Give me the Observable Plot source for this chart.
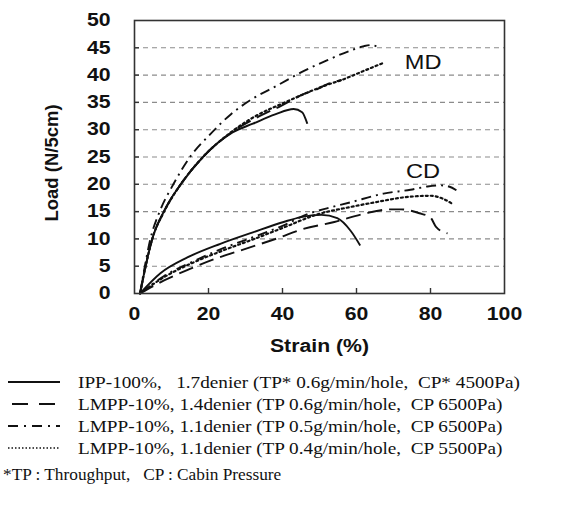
<!DOCTYPE html>
<html>
<head>
<meta charset="utf-8">
<script src="https://cdn.jsdelivr.net/npm/d3@7"></script>
<script src="https://cdn.jsdelivr.net/npm/@observablehq/plot@0.6"></script>
<style>
  html, body { margin: 0; padding: 0; background: #fff; }
  svg { display: block; }
</style>
</head>
<body>
<div id="chart"></div>
<script>
// ---- data ----
const xTicks = [0, 20, 40, 60, 80, 100];
const yTicks = [0, 5, 10, 15, 20, 25, 30, 35, 40, 45, 50];
const xLabel = "Strain (%)";
const yLabel = "Load (N/5cm)";
const regionLabels = ["MD", "CD"];
const regionLabelX = [78, 78];
const regionLabelY = [42.2, 22.3];

// [strain %, load N/5cm]
const mdIPP17 = [[1.5,0],[3,5],[4.8,10],[7.9,15],[12.5,20],[18.5,25],[26.5,29.5],[32,31.1],[38,32.8],[43,33.8],[45.3,33.2],[46.7,31.1]];
const mdLM14  = [[1.5,0],[3,5],[4.8,10],[8,15],[12.5,20],[18.5,25],[26,29.4],[33,32.2],[40,34.5],[46,36.6],[49,37.3],[52,38.3],[56,39.1]];
const mdLM11a = [[1.5,0],[2.8,5],[4.3,10],[6.8,15],[10.5,20],[15,25],[20.5,29.2],[26,32.8],[32,35.7],[38.6,38.1],[45,40.5],[52,42.7],[58.4,44.5],[62,45.3],[64,45.5],[66,45.1]];
const mdLM11b = [[1.5,0],[3,5],[4.8,10],[8,15],[12.5,20],[18.5,25],[26,29.5],[33,32.6],[40,34.8],[46,36.6],[52,38.2],[56,39.1],[61,40.5],[65.7,41.8],[67.5,42.3]];

const cdIPP17 = [[1.5,0],[7,3.7],[14.3,6.6],[23.2,9.1],[32,11.2],[40.3,13.1],[45,14],[50.5,14.4],[54.8,13.8],[58.4,11.5],[61,8.8]];
const cdLM14  = [[1.5,0],[8,2.4],[15,4.5],[22,6.4],[31,8.4],[39,10.2],[45,11.7],[54,13.1],[62,14.6],[69,15.4],[72,15.4],[77,14.7],[80,13.9],[81.5,12.2],[84.6,11]];
const cdLM11a = [[1.5,0],[8,3.2],[15,5.6],[24,8.3],[32,10.3],[40,12.4],[47,14.6],[52,15.6],[58.4,16.7],[67.3,18.3],[74.6,19],[79.2,19.6],[83,19.8],[85,19.6],[87,18.9]];
const cdLM11b = [[1.5,0],[8,3],[15,5.4],[24,7.9],[32,9.9],[40,12],[49.5,14.5],[58,15.8],[65,16.7],[72.7,17.6],[80,17.9],[83.2,17.4],[86,16.4]];

const legendNames = [
  "IPP-100%,   1.7denier (TP* 0.6g/min/hole,  CP* 4500Pa)",
  "LMPP-10%, 1.4denier (TP 0.6g/min/hole,  CP 6500Pa)",
  "LMPP-10%, 1.1denier (TP 0.5g/min/hole,  CP 6500Pa)",
  "LMPP-10%, 1.1denier (TP 0.4g/min/hole,  CP 5500Pa)"
];
const footnote = "*TP : Throughput,   CP : Cabin Pressure";

// ---- styles ----
const dashes = [null, "15,7", "10,5,2,5", "2,3"];
const groups = [[mdIPP17, cdIPP17], [mdLM14, cdLM14], [mdLM11a, cdLM11a], [mdLM11b, cdLM11b]];

const lineMarks = [];
groups.forEach((g, i) => {
  g.forEach(series => {
    lineMarks.push(Plot.line(series, {
      x: d => d[0], y: d => d[1], curve: "monotone-x",
      stroke: "#111", strokeWidth: i === 3 ? 2.2 : 1.9,
      strokeDasharray: dashes[i] || undefined,
      strokeLinecap: i === 3 ? "round" : "butt"
    }));
  });
});

const labelData = regionLabels.map((t, i) => ({t, x: regionLabelX[i], y: regionLabelY[i]}));

const chart = Plot.plot({
  width: 577, height: 365,
  marginLeft: 134, marginRight: 73, marginTop: 20, marginBottom: 72,
  x: {domain: [0, 100], ticks: xTicks},
  y: {domain: [0, 50], ticks: yTicks},
  style: {fontFamily: "'Liberation Sans', Arial, sans-serif", background: "#fff", color: "#111"},
  marks: [
    Plot.ruleY(yTicks.filter(d => d > 0 && d < 50), {y: d => d, stroke: "#8c8c8c", strokeWidth: 1.1, strokeDasharray: "5,4"}),
    Plot.tickX(xTicks.filter(d => d > 0 && d < 100), {x: d => d, insetTop: 268, stroke: "#333", strokeWidth: 1.4}),
    Plot.tickY(yTicks.filter(d => d > 0 && d < 50), {y: d => d, insetRight: 365, stroke: "#333", strokeWidth: 1.4}),
    ...lineMarks,
    Plot.frame({stroke: "#333", strokeWidth: 1.6}),
    Plot.axisX({ticks: xTicks, tickSize: 0, tickPadding: 14, label: null, fontSize: 18, fontWeight: "bold", tickFormat: d => String(d)}),
    Plot.axisY({ticks: yTicks, tickSize: 0, tickPadding: 24, label: null, fontSize: 18, fontWeight: "bold", tickFormat: d => String(d)}),
    Plot.text([xLabel], {text: d => d, frameAnchor: "bottom", textAnchor: "middle", dy: 58, fontSize: 18, fontWeight: "bold"}),
    Plot.text([yLabel], {text: d => d, frameAnchor: "left", textAnchor: "middle", dx: -82, dy: 6, rotate: -90, fontSize: 18.5, fontWeight: "bold"}),
    Plot.text(labelData, {x: "x", y: "y", text: "t", fontSize: 20, fill: "#111"})
  ]
});
document.getElementById("chart").appendChild(chart);

// ---- legend (below the chart) ----
const serif = "Liberation Serif";
const leg = d3.select("#chart").append("svg")
  .attr("width", 577).attr("height", 140);
const rowY = [17, 39, 61, 83];
legendNames.forEach((name, i) => {
  leg.append("line")
    .attr("x1", i === 1 ? 12 : 8).attr("x2", 60)
    .attr("y1", rowY[i]).attr("y2", rowY[i])
    .attr("stroke", "#111")
    .attr("stroke-width", i === 3 ? 1.4 : 2)
    .attr("stroke-dasharray", i === 0 ? null : (i === 1 ? "16,11" : (i === 2 ? "10,6,2,6" : "1.5,2")));
  leg.append("text")
    .attr("class", "row")
    .attr("x", 78).attr("y", rowY[i]).attr("dy", "0.35em")
    .style("font-family", serif).style("font-size", "17px")
    .style("white-space", "pre")
    .attr("fill", "#111")
    .text(name);
});
leg.append("text")
  .attr("class", "foot")
  .attr("x", 3).attr("y", 109).attr("dy", "0.35em")
  .style("font-family", serif).style("font-size", "16px")
  .style("white-space", "pre")
  .attr("fill", "#111")
  .text(footnote);

// horizontal stretch of text to match the reference's wide glyphs
function stretchEl(t, k) {
  const L = t.getComputedTextLength();
  if (L > 0) {
    t.setAttribute("textLength", (L * k).toFixed(2));
    t.setAttribute("lengthAdjust", "spacingAndGlyphs");
  }
}
chart.querySelectorAll("text").forEach(t => {
  const tr = (t.getAttribute("transform") || "") + ((t.parentNode.getAttribute && t.parentNode.getAttribute("transform")) || "");
  if (!tr.includes("rotate")) stretchEl(t, 1.18);
});
leg.selectAll("text.row").each(function() { stretchEl(this, 1.13); });
leg.selectAll("text.foot").each(function() { stretchEl(this, 1.08); });
</script>
</body>
</html>
